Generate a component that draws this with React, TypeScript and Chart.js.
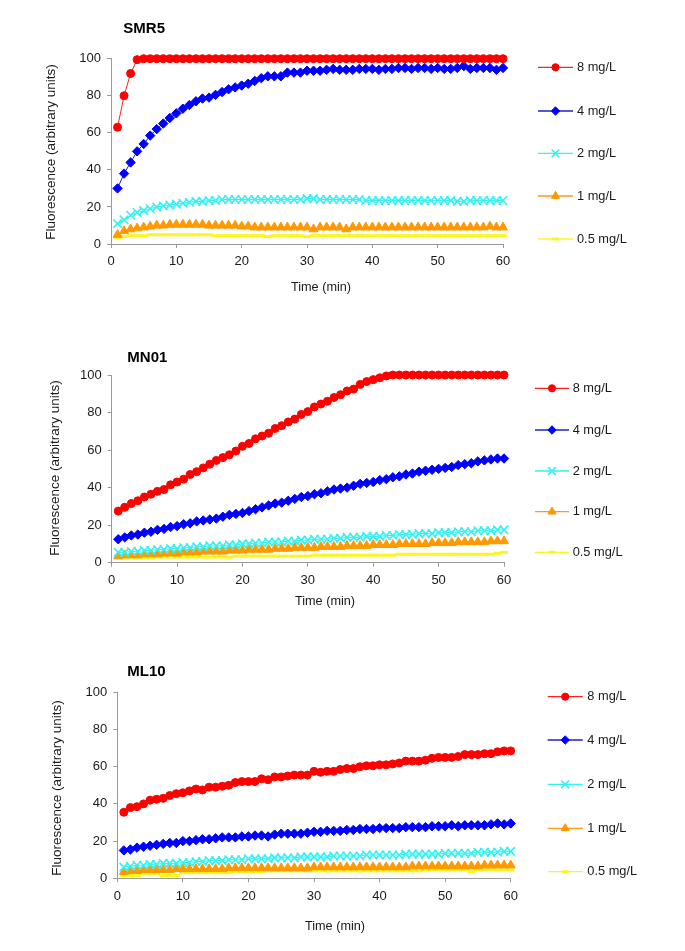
import React, { useEffect, useRef } from 'react';
import { Chart, registerables } from 'chart.js';

Chart.register(...registerables);

// ---------------- DATA ----------------
const TIME = [
  1, 2, 3, 4, 5, 6, 7, 8, 9, 10, 11, 12, 13, 14, 15, 16, 17, 18, 19, 20,
  21, 22, 23, 24, 25, 26, 27, 28, 29, 30, 31, 32, 33, 34, 35, 36, 37, 38, 39, 40,
  41, 42, 43, 44, 45, 46, 47, 48, 49, 50, 51, 52, 53, 54, 55, 56, 57, 58, 59, 60,
];

const SERIES_LABELS = ['8 mg/L', '4 mg/L', '2 mg/L', '1 mg/L', '0.5 mg/L'];
const PANEL_TITLES = ['SMR5', 'MN01', 'ML10'];
const X_TITLE = 'Time (min)';
const Y_TITLE = 'Fluorescence (arbitrary units)';
const X_TICKS = [0, 10, 20, 30, 40, 50, 60];
const Y_TICKS = [0, 20, 40, 60, 80, 100];

// SMR5
const SMR5_8 = [
  63, 80, 92, 99.5, 100, 100, 100, 100, 100, 100,
  100, 100, 100, 100, 100, 100, 100, 100, 100, 100,
  100, 100, 100, 100, 100, 100, 100, 100, 100, 100,
  100, 100, 100, 100, 100, 100, 100, 100, 100, 100,
  100, 100, 100, 100, 100, 100, 100, 100, 100, 100,
  100, 100, 100, 100, 100, 100, 100, 100, 100, 100,
];
const SMR5_4 = [
  30, 38, 44, 50, 54, 58.5, 62, 65, 68, 70.5,
  73, 75, 77, 78.5, 79, 80.5, 82, 83.5, 84.5, 85.5,
  86.5, 88, 89.5, 90.5, 90.5, 90.5, 92.5, 92.5, 92.5, 93.5,
  93.5, 93.5, 94, 94.5, 94, 94, 94, 94.5, 94.5, 94.5,
  94, 94.5, 94.5, 95, 95, 94.5, 95, 95, 94.5, 95,
  94.5, 94.5, 95, 96, 94.5, 95, 95, 95, 94, 95,
];
const SMR5_2 = [
  11, 13, 15.5, 17, 18, 19, 20, 20.5, 21, 21.5,
  22, 22.5, 23, 23, 23.5, 23.5, 24, 24, 24, 24,
  24, 24, 24, 24, 24, 24, 24, 24, 24, 24.5,
  24.5, 24, 24, 24, 24, 24, 24, 24, 23.5, 23.5,
  23.5, 23.5, 23.5, 23.5, 23.5, 23.5, 23.5, 23.5, 23.5, 23.5,
  23.5, 23.5, 23, 23, 23.5, 23.5, 23.5, 23.5, 23.5, 23.5,
];
const SMR5_1 = [
  5, 7, 8, 8.5, 9, 9.5, 10, 10, 10.5, 10.5,
  10.5, 10.5, 10.5, 10.5, 10, 10, 10, 10, 10, 9.5,
  9.5, 9, 9, 9, 9, 9, 9, 9, 9, 9,
  8, 9, 9, 9, 9, 8, 9, 9, 9, 9,
  9, 9, 9, 9, 9, 9, 9, 9, 9, 9,
  9, 9, 9, 9, 9, 9, 9, 9.5, 9, 9,
];
const SMR5_05 = [
  3.5, 4, 4.5, 4.5, 4.5, 5, 5, 5, 5, 5,
  5, 5, 5, 5, 5, 4.5, 4.5, 4.5, 4.5, 4.5,
  4.5, 4.5, 4.5, 4, 4.5, 4.5, 4.5, 4.5, 4.5, 4,
  4.5, 4.5, 4.5, 4.5, 4.5, 4.5, 4.5, 4.5, 4.5, 4.5,
  4.5, 4.5, 4.5, 4.5, 4.5, 4.5, 4.5, 4.5, 4.5, 4.5,
  4.5, 4.5, 4.5, 4.5, 4.5, 4.5, 4.5, 4.5, 4.5, 4.5,
];

// MN01
const MN01_8 = [
  27.5, 29.5, 31.5, 33, 35, 36.5, 38, 39, 41.5, 43,
  44.5, 47, 48.5, 50.5, 52.5, 54.5, 56, 57.5, 59.5, 62,
  63.5, 66, 67.5, 69, 71.5, 73, 75, 76.5, 79, 80.5,
  83, 84.5, 86, 88, 89.5, 91.5, 92.5, 95, 96.5, 97.5,
  98.5, 99.5, 100, 100, 100, 100, 100, 100, 100, 100,
  100, 100, 100, 100, 100, 100, 100, 100, 100, 100,
];
const MN01_4 = [
  12.5, 13.5, 14.5, 15, 16, 16.5, 17.5, 18, 19, 19.5,
  20.5, 21, 22, 22.5, 23, 23.5, 24.5, 25.5, 26, 26.5,
  27.5, 28.5, 29.5, 30.5, 31.5, 32, 33, 34, 35, 35.5,
  36.5, 37, 38, 39, 39.5, 40, 41, 42, 42.5, 43,
  44, 44.5, 45.5, 46, 47, 47.5, 48.5, 49, 49.5, 50,
  50.5, 51, 52, 52.5, 53, 54, 54.5, 55, 55.5, 55.5,
];
const MN01_2 = [
  5.5, 5.5, 6, 6, 6.5, 6.5, 7, 7, 7.5, 7.5,
  8, 8, 8.5, 8.5, 9, 9, 9, 9.5, 9.5, 10,
  10, 10.5, 10.5, 11, 11, 11, 11.5, 11.5, 12, 12,
  12.5, 12.5, 12.5, 13, 13, 13.5, 13.5, 13.5, 14, 14,
  14, 14.5, 14.5, 15, 15, 15, 15.5, 15.5, 15.5, 16,
  16, 16, 16.5, 16.5, 16.5, 17, 17, 17, 17.5, 17.5,
];
const MN01_1 = [
  3.5, 4, 4, 4, 4.5, 4.5, 4.5, 5, 5, 5,
  5.5, 5.5, 5.5, 6, 6, 6, 6, 6.5, 6.5, 6.5,
  7, 7, 7, 7, 7.5, 7.5, 7.5, 8, 8, 8,
  8, 8.5, 8.5, 8.5, 8.5, 9, 9, 9, 9, 9.5,
  9.5, 9.5, 9.5, 10, 10, 10, 10, 10, 10.5, 10.5,
  10.5, 10.5, 11, 11, 11, 11, 11, 11.5, 11.5, 11.5,
];
const MN01_05 = [
  2.5, 2.5, 2.5, 2.5, 2.5, 2.5, 3, 3, 3, 3,
  3, 3, 3, 3, 3, 3, 3, 3, 3.5, 3.5,
  3.5, 3.5, 3.5, 3.5, 3.5, 3.5, 3.5, 3.5, 3.5, 3.5,
  4, 4, 4, 4, 4, 4, 4, 4, 4, 4,
  4, 4, 4, 4.5, 4.5, 4.5, 4.5, 4.5, 4.5, 4.5,
  4.5, 4.5, 4.5, 4.5, 4.5, 4.5, 4.5, 4.5, 5, 5.5,
];

// ML10
const ML10_8 = [
  35.5, 38, 38.5, 40, 42, 42.5, 43, 44.5, 45.5, 46,
  47, 48, 47.5, 49, 49, 49.5, 50, 51.5, 52, 52,
  52, 53.5, 53, 54.5, 54.5, 55, 55.5, 55.5, 55.5, 57.5,
  57, 57.5, 57.5, 58.5, 59, 59, 60, 60.5, 60.5, 61,
  61, 61.5, 62, 63, 63, 63, 63.5, 64.5, 65, 65,
  65, 65.5, 66.5, 66.5, 66.5, 67, 67, 68, 68.5, 68.5,
];
const ML10_4 = [
  15, 15.5, 16.5, 17, 17.5, 18, 18.5, 19, 19, 20,
  20, 20.5, 21, 21, 21.5, 22, 22, 22, 22.5, 22.5,
  23, 23, 22.5, 23.5, 24, 24, 24, 24, 24.5, 25,
  25, 25.5, 25.5, 25.5, 26, 26, 26.5, 26.5, 26.5, 27,
  27, 27, 27, 27.5, 27.5, 27.5, 27.5, 28, 28, 28,
  28.5, 28, 28.5, 28.5, 28.5, 28.5, 29, 29.5, 29, 29.5,
];
const ML10_2 = [
  6, 6.5, 7, 7, 7.5, 7.5, 8, 8, 8, 8.5,
  8.5, 9, 9, 9.5, 9.5, 9.5, 10, 10, 10, 10.5,
  10.5, 10.5, 10.5, 11, 11, 11, 11, 11.5, 11.5, 11.5,
  11.5, 11.5, 12, 12, 12, 12, 12, 12.5, 12.5, 12.5,
  12.5, 12.5, 12.5, 13, 13, 13, 13, 13, 13, 13.5,
  13.5, 13.5, 13.5, 13.5, 14, 14, 14, 14, 14.5, 14.5,
];
const ML10_1 = [
  3.5, 4, 4, 4.5, 4.5, 4.5, 4.5, 4.5, 5, 5,
  5, 5, 5, 5, 5, 5, 5.5, 5.5, 5.5, 5.5,
  5.5, 5.5, 5.5, 5.5, 5.5, 5.5, 5.5, 5.5, 5.5, 6,
  6, 6, 6, 6, 6, 6, 6, 6, 6, 6,
  6, 6, 6, 6, 6.5, 6.5, 6.5, 6.5, 6.5, 6.5,
  6.5, 6.5, 6.5, 6.5, 6.5, 7, 7, 7, 7, 7,
];
const ML10_05 = [
  1.5, 1.5, 1.5, 2.5, 2.5, 2.5, 1.5, 1.5, 1.5, 3,
  3, 3, 3, 3, 3, 3, 3, 3.5, 3.5, 3.5,
  3.5, 3.5, 4, 4, 4, 4, 4, 4, 4, 4,
  4, 4, 4, 4, 4, 4, 4, 4, 4, 4,
  4, 4, 4, 4, 4, 4, 4.5, 4.5, 4.5, 4.5,
  4.5, 4.5, 4.5, 3.5, 4.5, 4.5, 4.5, 4.5, 4.5, 4.5,
];

const PANEL_DATA = [
  [SMR5_8, SMR5_4, SMR5_2, SMR5_1, SMR5_05],
  [MN01_8, MN01_4, MN01_2, MN01_1, MN01_05],
  [ML10_8, ML10_4, ML10_2, ML10_1, ML10_05],
];

// ---------------- STYLE / LAYOUT ----------------
const FONT = '"Liberation Sans", Arial, Helvetica, sans-serif';
const W = 685;
const H = 317;
const Y_W = 40;
const X_H = 30;
const AXIS_COLOR = '#9a9a9a';
const TEXT_COLOR = '#1a1a1a';

type SeriesStyle = {
  color: string;
  lineColor: string;
  point: string;
  radius: number;
  borderWidth: number;
};

const SERIES_STYLES: SeriesStyle[] = [
  { color: '#ff0000', lineColor: '#ff2020', point: 'circle', radius: 4, borderWidth: 1 },
  { color: '#0000ff', lineColor: '#2020c8', point: 'rectRot', radius: 4.7, borderWidth: 1 },
  { color: '#33f2f2', lineColor: '#33f2f2', point: 'crossRot', radius: 6, borderWidth: 1.6 },
  { color: '#ff9900', lineColor: '#ff9a20', point: 'triangle', radius: 5.2, borderWidth: 1 },
  { color: '#f8f820', lineColor: '#f8f820', point: 'line', radius: 3.8, borderWidth: 3 },
];

type PanelLayout = {
  area: { left: number; right: number; top: number; bottom: number };
  titlePos: [number, number];
  yTitlePos: [number, number];
  xTitlePos: [number, number];
  legend: { x1: number; x2: number; tx: number; rows: number[] };
};

const LAYOUTS: PanelLayout[] = [
  {
    area: { left: 111, right: 503, top: 58.7, bottom: 244 },
    titlePos: [123.3, 29],
    yTitlePos: [51.7, 152],
    xTitlePos: [321, 287],
    legend: { x1: 538, x2: 573, tx: 577, rows: [67.3, 111, 153.3, 196, 239] },
  },
  {
    area: { left: 111.7, right: 504, top: 58, bottom: 245.7 },
    titlePos: [127.3, 40.7],
    yTitlePos: [55, 151],
    xTitlePos: [325, 284.7],
    legend: { x1: 535, x2: 569, tx: 572.7, rows: [71.3, 113, 154, 194.7, 235.3] },
  },
  {
    area: { left: 117.3, right: 510.7, top: 58.3, bottom: 244.3 },
    titlePos: [127.3, 37.7],
    yTitlePos: [57.3, 154],
    xTitlePos: [335, 292.7],
    legend: { x1: 547.7, x2: 582.7, tx: 587.3, rows: [62.7, 106, 150.3, 194.3, 237.7] },
  },
];

function drawMarker(ctx: CanvasRenderingContext2D, s: SeriesStyle, x: number, y: number) {
  const r = s.radius * 0.9;
  ctx.save();
  ctx.fillStyle = s.color;
  ctx.strokeStyle = s.color;
  ctx.lineWidth = s.borderWidth;
  ctx.beginPath();
  if (s.point === 'circle') {
    ctx.arc(x, y, r, 0, Math.PI * 2);
    ctx.fill();
    ctx.stroke();
  } else if (s.point === 'rectRot') {
    ctx.moveTo(x, y - r);
    ctx.lineTo(x + r, y);
    ctx.lineTo(x, y + r);
    ctx.lineTo(x - r, y);
    ctx.closePath();
    ctx.fill();
    ctx.stroke();
  } else if (s.point === 'crossRot') {
    const d = r * Math.SQRT1_2;
    ctx.moveTo(x - d, y - d);
    ctx.lineTo(x + d, y + d);
    ctx.moveTo(x - d, y + d);
    ctx.lineTo(x + d, y - d);
    ctx.stroke();
  } else if (s.point === 'triangle') {
    for (let k = 0; k < 3; k++) {
      const a = (k * 2 * Math.PI) / 3;
      const px = x + Math.sin(a) * r;
      const py = y - Math.cos(a) * r;
      if (k === 0) ctx.moveTo(px, py);
      else ctx.lineTo(px, py);
    }
    ctx.closePath();
    ctx.fill();
    ctx.stroke();
  } else {
    ctx.moveTo(x - r, y);
    ctx.lineTo(x + r, y);
    ctx.stroke();
  }
  ctx.restore();
}

function makeDecorPlugin(idx: number) {
  const L = LAYOUTS[idx];
  return {
    id: 'decor' + idx,
    afterDraw(chart: any) {
      const ctx: CanvasRenderingContext2D = chart.ctx;
      ctx.save();
      // title
      ctx.fillStyle = '#000';
      ctx.font = `bold 15px ${FONT}`;
      ctx.textAlign = 'left';
      ctx.textBaseline = 'middle';
      ctx.fillText(PANEL_TITLES[idx], L.titlePos[0], L.titlePos[1]);
      // axis titles
      ctx.fillStyle = TEXT_COLOR;
      ctx.font = `12.7px ${FONT}`;
      ctx.textAlign = 'center';
      ctx.fillText(X_TITLE, L.xTitlePos[0], L.xTitlePos[1]);
      ctx.save();
      ctx.font = `13.5px ${FONT}`;
      ctx.translate(L.yTitlePos[0], L.yTitlePos[1]);
      ctx.rotate(-Math.PI / 2);
      ctx.fillText(Y_TITLE, 0, 0);
      ctx.restore();
      // legend
      ctx.font = `12.8px ${FONT}`;
      ctx.textAlign = 'left';
      SERIES_LABELS.forEach((lab, i) => {
        const s = SERIES_STYLES[i];
        const y = L.legend.rows[i];
        ctx.save();
        ctx.strokeStyle = s.lineColor;
        ctx.lineWidth = 1.3;
        ctx.beginPath();
        ctx.moveTo(L.legend.x1, y);
        ctx.lineTo(L.legend.x2, y);
        ctx.stroke();
        ctx.restore();
        drawMarker(ctx, s, (L.legend.x1 + L.legend.x2) / 2, y);
        ctx.fillStyle = TEXT_COLOR;
        ctx.fillText(lab, L.legend.tx, y);
      });
      ctx.restore();
    },
  };
}

function Panel({ idx }: { idx: number }) {
  const ref = useRef<HTMLCanvasElement | null>(null);
  useEffect(() => {
    if (!ref.current) return;
    const L = LAYOUTS[idx];
    const series = PANEL_DATA[idx];
    const datasets = series.map((vals, i) => {
      const s = SERIES_STYLES[i];
      return {
        label: SERIES_LABELS[i],
        data: TIME.map((t, k) => ({ x: t, y: vals[k] })),
        borderColor: s.lineColor,
        backgroundColor: s.color,
        borderWidth: 1,
        pointStyle: s.point,
        pointRadius: s.radius,
        pointBackgroundColor: s.color,
        pointBorderColor: s.color,
        pointBorderWidth: s.borderWidth,
        pointHoverRadius: s.radius,
        tension: 0,
        clip: false as any,
        fill: false,
      };
    });
    const chart = new Chart(ref.current, {
      type: 'line',
      data: { datasets },
      options: {
        animation: false,
        responsive: false,
        maintainAspectRatio: false,
        events: [],
        layout: {
          padding: {
            left: L.area.left - Y_W,
            right: W - L.area.right,
            top: L.area.top,
            bottom: H - L.area.bottom - X_H,
          },
        },
        plugins: {
          legend: { display: false },
          tooltip: { enabled: false },
          title: { display: false },
        },
        scales: {
          x: {
            type: 'linear',
            min: X_TICKS[0],
            max: X_TICKS[X_TICKS.length - 1],
            afterBuildTicks: (s: any) => {
              s.ticks = X_TICKS.map((v) => ({ value: v }));
            },
            ticks: {
              font: { family: FONT, size: 13 },
              color: TEXT_COLOR,
              padding: 6,
              maxRotation: 0,
              autoSkip: false,
            },
            grid: {
              drawOnChartArea: false,
              drawTicks: true,
              tickLength: 4,
              color: AXIS_COLOR,
            },
            border: { display: true, color: AXIS_COLOR, width: 1 },
            afterFit: (s: any) => {
              s.height = X_H;
            },
          },
          y: {
            type: 'linear',
            min: Y_TICKS[0],
            max: Y_TICKS[Y_TICKS.length - 1],
            afterBuildTicks: (s: any) => {
              s.ticks = Y_TICKS.map((v) => ({ value: v }));
            },
            ticks: {
              font: { family: FONT, size: 13 },
              color: TEXT_COLOR,
              padding: 6,
              autoSkip: false,
            },
            grid: {
              drawOnChartArea: false,
              drawTicks: true,
              tickLength: 4,
              color: AXIS_COLOR,
            },
            border: { display: true, color: AXIS_COLOR, width: 1 },
            afterFit: (s: any) => {
              s.width = Y_W;
            },
          },
        },
      } as any,
      plugins: [makeDecorPlugin(idx)],
    });
    return () => chart.destroy();
  }, [idx]);
  return (
    <canvas
      ref={ref}
      width={W}
      height={H}
      style={{ display: 'block', width: W, height: H }}
    />
  );
}

export default function App() {
  return (
    <div
      style={{
        position: 'absolute',
        left: 0,
        top: 0,
        width: W,
        height: H * 3,
        background: '#ffffff',
      }}
    >
      <Panel idx={0} />
      <Panel idx={1} />
      <Panel idx={2} />
    </div>
  );
}
